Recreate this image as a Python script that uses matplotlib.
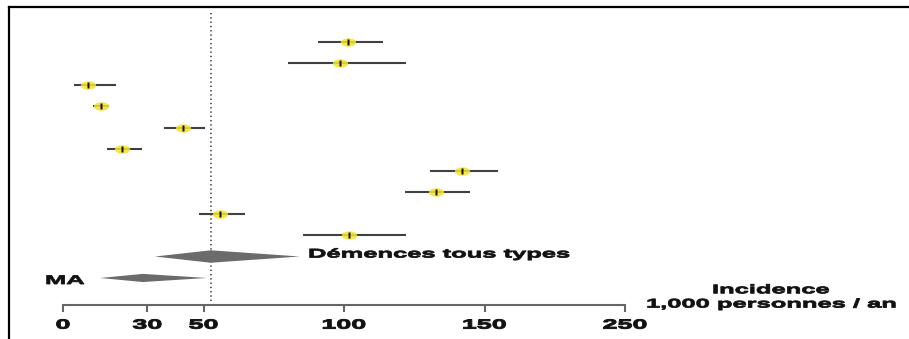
import numpy as np
import matplotlib
matplotlib.use("Agg")
import matplotlib.pyplot as plt
from matplotlib.path import Path
from matplotlib.lines import Line2D
from matplotlib.transforms import Affine2D
from matplotlib.patheffects import AbstractPathEffect

plt.rcParams["font.family"] = ["Liberation Sans", "DejaVu Sans"]

# Individual study estimates (incidence per 1,000 person-years) with 95% CI
study_est = [101.4, 98.7, 8.8, 13.4, 42.6, 21.0, 142.1, 132.8, 55.8, 101.7]
study_lo = [90.8, 80.1, 3.9, 10.8, 35.9, 15.5, 130.5, 121.6, 48.3, 85.3]
study_hi = [113.9, 121.9, 18.8, 16.4, 50.5, 28.1, 159.5, 144.7, 64.7, 121.9]

# Pooled estimates
pooled_names = ["Démences tous types", "MA"]
pooled_est = [52.6, 28.4]
pooled_lo = [32.7, 13.2]
pooled_hi = [84.3, 51.2]

tick_values = [0, 30, 50, 100, 150, 250]
tick_labels = ["0", "30", "50", "100", "150", "250"]
axis_title = ["Incidence", "1,000 personnes / an"]

W, H = 909, 339
FONT = 9
STRETCH = 2.04


class HStretch(AbstractPathEffect):
    """Draw text glyphs widened horizontally, with an optional outline
    to thicken the strokes."""

    def __init__(self, factor, anchor="left", weight=0.0):
        super().__init__()
        self.factor = factor
        self.anchor = anchor
        self.weight = weight

    def draw_path(self, renderer, gc, tpath, affine, rgbFace=None):
        cx = 0.0
        if self.anchor == "center":
            ext = tpath.get_extents()
            cx = 0.5 * (ext.x0 + ext.x1)
        widen = Affine2D().translate(-cx, 0).scale(self.factor, 1).translate(cx, 0)
        gc0 = renderer.new_gc()
        gc0.copy_properties(gc)
        if self.weight > 0 and rgbFace is not None:
            gc0.set_linewidth(self.weight)
            gc0.set_foreground(rgbFace)
            gc0.set_joinstyle("round")
        renderer.draw_path(gc0, tpath, widen + affine, rgbFace)
        gc0.restore()


# Axis compressed above 150
def fwd(x):
    x = np.asarray(x, dtype=float)
    return np.where(x <= 150, x, 150 + (x - 150) * 0.5)


def inv(y):
    y = np.asarray(y, dtype=float)
    return np.where(y <= 150, y, 150 + (y - 150) * 2.0)


fig = plt.figure(figsize=(W / 100, H / 100), dpi=100)
ax = fig.add_axes([63 / W, 1 - 305 / H, 562 / W, 295 / H])
ax.set_xscale("function", functions=(fwd, inv))
ax.set_xlim(0, 250)
ax.set_ylim(13.26, -0.49)

# Reference line at the pooled all-dementia estimate
ax.plot([pooled_est[0], pooled_est[0]], [-0.35, 13.12], color="#333333",
        lw=1.1, linestyle=(0, (0.9, 1.9)), zorder=1, clip_on=False)

rows = np.arange(1, len(study_est) + 1)
ax.hlines(rows, study_lo, study_hi, color="#404040", lw=1.5, zorder=2)

ellipse = Path.unit_circle().transformed(Affine2D().scale(1.8, 1.0))
bar = Path([(-0.4, -1), (0.4, -1), (0.4, 1), (-0.4, 1), (-0.4, -1)],
           [Path.MOVETO, Path.LINETO, Path.LINETO, Path.LINETO, Path.CLOSEPOLY])
ax.plot(study_est, rows, linestyle="none", marker=ellipse, markersize=11,
        markerfacecolor="#f4e42e", markeredgecolor="none", alpha=0.85, zorder=3)
ax.plot(study_est, rows, linestyle="none", marker=bar, markersize=5,
        markerfacecolor="#141414", markeredgecolor="none", zorder=4)

# Pooled diamonds
half_heights = [0.29, 0.19]
for k, (e, lo, hi) in enumerate(zip(pooled_est, pooled_lo, pooled_hi)):
    r = len(study_est) + 1 + k
    h = half_heights[k]
    ax.fill([lo, e, hi, e], [r, r - h, r, r + h], color="#6b6b6b",
            lw=0, zorder=3)

for s in ["left", "top", "right"]:
    ax.spines[s].set_visible(False)
ax.spines["bottom"].set_color("#666666")
ax.spines["bottom"].set_linewidth(1.5)
ax.set_yticks([])
ax.set_xticks(tick_values, labels=tick_labels)
ax.xaxis.set_minor_locator(matplotlib.ticker.NullLocator())
ax.tick_params(axis="x", length=5, width=1.5, color="#666666", pad=5.5,
               labelsize=9.5)
for t in ax.xaxis.get_major_ticks():
    t.label1.set_fontweight("bold")
    t.label1.set_color("#111111")
    t.label1.set_path_effects([HStretch(STRETCH, "center", weight=0.7)])


def wide_text(xpx, ypx, s):
    fig.text(xpx / W, 1 - ypx / H, s, ha="left", va="baseline",
             fontsize=FONT, fontweight="bold", color="#111111",
             path_effects=[HStretch(STRETCH, weight=0.6)])


wide_text(308, 257.5, pooled_names[0])
wide_text(45, 284, pooled_names[1])
wide_text(712, 293.3, axis_title[0])
wide_text(646, 307.5, axis_title[1])

# Frame edges
fig.add_artist(Line2D([8.5 / W, 1], [1 - 7 / H, 1 - 7 / H],
                      transform=fig.transFigure, color="black", lw=1.6))
fig.add_artist(Line2D([8.5 / W, 8.5 / W], [0, 1 - 7 / H],
                      transform=fig.transFigure, color="black", lw=1.6))

fig.savefig("out.png", dpi=100, facecolor="white")
